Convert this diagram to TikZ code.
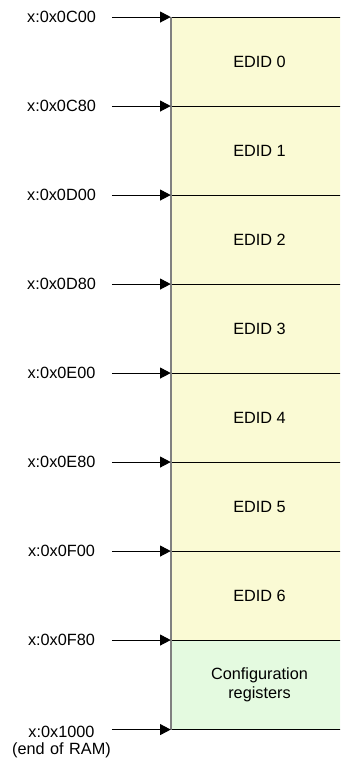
\documentclass[tikz,border=0pt]{standalone}
\usepackage{fontspec}
\setmainfont{Liberation Sans}
\usetikzlibrary{arrows.meta}
\definecolor{edidfill}{RGB}{250,250,212}
\definecolor{cfgfill}{RGB}{228,250,224}

\begin{document}
\begin{tikzpicture}[x=0.75pt, y=-0.75pt,
		block/.style={minimum width=132.75pt, minimum height=66.75pt, inner sep=0pt, align=center, font=\fontsize{12.2}{13.9}\selectfont},
		addr/.style={text width=75.3pt, inner sep=0pt, align=center, font=\fontsize{12.2}{12.8}\selectfont},
		ptr/.style={line width=0.75pt, -{Triangle[length=8pt, width=8.2pt]}},
		sep/.style={line width=0.75pt}]
		%%%%% START %%%%%
		
		\useasboundingbox (0, 0) rectangle (340, 759);
		\clip (0, 0) rectangle (340, 759);
		
		\node[block, fill=edidfill] (e0) at (259.5, 61.8) {EDID 0};
		\node[block, fill=edidfill] (e1) at (259.5, 150.8) {EDID 1};
		\node[block, fill=edidfill] (e2) at (259.5, 239.8) {EDID 2};
		\node[block, fill=edidfill] (e3) at (259.5, 328.8) {EDID 3};
		\node[block, fill=edidfill] (e4) at (259.5, 417.8) {EDID 4};
		\node[block, fill=edidfill] (e5) at (259.5, 506.8) {EDID 5};
		\node[block, fill=edidfill] (e6) at (259.5, 595.8) {EDID 6};
		\node[block, fill=cfgfill] (cfg) at (259.5, 684.8) {Configuration\\registers};
		
		\draw[sep] (e0.north west) -- (e0.north east);
		\draw[sep] (e1.north west) -- (e1.north east);
		\draw[sep] (e2.north west) -- (e2.north east);
		\draw[sep] (e3.north west) -- (e3.north east);
		\draw[sep] (e4.north west) -- (e4.north east);
		\draw[sep] (e5.north west) -- (e5.north east);
		\draw[sep] (e6.north west) -- (e6.north east);
		\draw[sep] (cfg.north west) -- (cfg.north east);
		\draw[sep] (cfg.south west) -- (cfg.south east);
		
		\draw[line width=1.5pt, color=black!50] (e0.north west) -- (cfg.south west);
		
		\node[addr] (a0) at (61.5, 17.3) {x:0x0C00};
		\node[addr] (a1) at (61.5, 106.3) {x:0x0C80};
		\node[addr] (a2) at (61.5, 195.3) {x:0x0D00};
		\node[addr] (a3) at (61.5, 284.3) {x:0x0D80};
		\node[addr] (a4) at (61.5, 373.3) {x:0x0E00};
		\node[addr] (a5) at (61.5, 462.3) {x:0x0E80};
		\node[addr] (a6) at (61.5, 551.3) {x:0x0F00};
		\node[addr] (a7) at (61.5, 640.3) {x:0x0F80};
		\node[addr, anchor=north] (a8) at (61.5, 725.5) {x:0x1000\\(end of RAM)};
		
		\draw[ptr] (a0.east |- e0.north west) -- (e0.north west);
		\draw[ptr] (a1.east |- e1.north west) -- (e1.north west);
		\draw[ptr] (a2.east |- e2.north west) -- (e2.north west);
		\draw[ptr] (a3.east |- e3.north west) -- (e3.north west);
		\draw[ptr] (a4.east |- e4.north west) -- (e4.north west);
		\draw[ptr] (a5.east |- e5.north west) -- (e5.north west);
		\draw[ptr] (a6.east |- e6.north west) -- (e6.north west);
		\draw[ptr] (a7.east |- cfg.north west) -- (cfg.north west);
		\draw[ptr] (a8.east |- cfg.south west) -- (cfg.south west);
		
		%%%%% END %%%%%
	\end{tikzpicture}
\end{document}
